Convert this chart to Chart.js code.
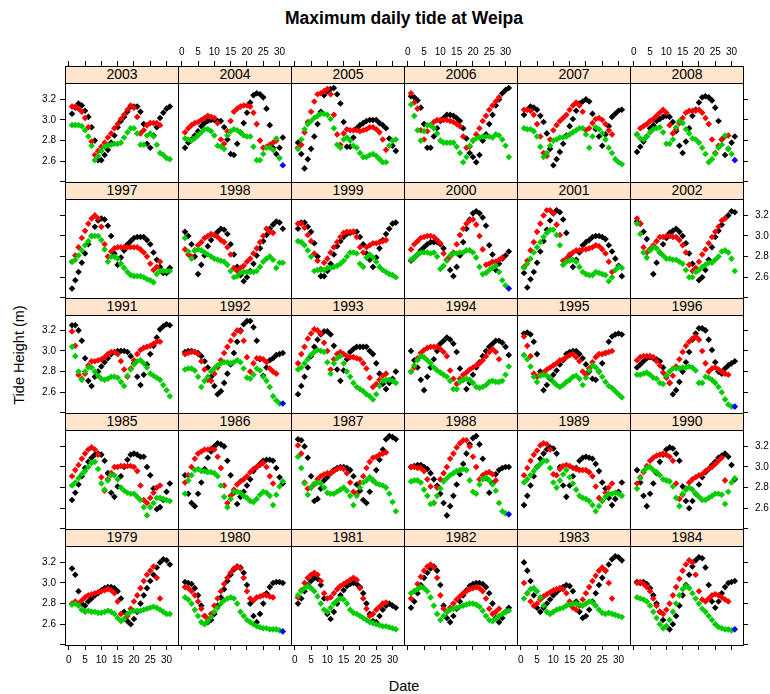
<!DOCTYPE html>
<html>
<head>
<meta charset="utf-8">
<title>Maximum daily tide at Weipa</title>
<script src="https://cdn.jsdelivr.net/npm/chart.js@4.4.1/dist/chart.umd.min.js"></script>
<style>
  body { margin: 0; background: #fff; }
  #page { position: relative; width: 770px; height: 694px; overflow: hidden;
          font-family: "Liberation Sans", Arial, Helvetica, sans-serif; color: #000; }
  #page canvas { position: absolute; }
  .lbl { position: absolute; white-space: nowrap; text-align: center; }
  #title { left: 204px; width: 400px; top: 8px; font-size: 17.5px; font-weight: bold; line-height: 20px; }
  #xlab { left: 354px; width: 100px; top: 677px; font-size: 14.5px; line-height: 18px; }
  #ylab { left: 19px; top: 355px; font-size: 14.5px; line-height: 18px;
          transform: translate(-50%, -50%) rotate(-90deg); }
  .strip { position: absolute; box-sizing: border-box; z-index: 2; background: #ffe5cc;
           border: 1px solid #000; font-size: 14px; line-height: 15px; text-align: center; }
</style>
</head>
<body>
<div id="page">
  <div class="lbl" id="title">Maximum daily tide at Weipa</div>
  <div class="lbl" id="ylab">Tide Height (m)</div>
  <div class="lbl" id="xlab">Date</div>
</div>
<script>
// daily maxima (m), one value per day from day 1; black / red / green groups
const black1979 = [3.14,3.08,2.92,2.80,2.78,2.82,2.85,2.88,2.90,2.93,2.95,2.96,2.96,2.95,2.92,2.85,2.72,2.63,2.60,2.65,2.72,2.80,2.88,2.95,3.02,3.08,3.15,3.20,3.23,3.22,3.18];
const red1979   = [2.80,2.82,2.80,2.83,2.86,2.88,2.89,2.90,2.91,2.92,2.93,2.94,2.93,2.90,2.82,2.70,2.65,2.68,2.75,2.82,2.88,2.95,3.02,3.08,3.12,3.16,3.05,2.85];
const green1979 = [2.79,2.80,2.78,2.74,2.72,2.73,2.72,2.72,2.71,2.71,2.72,2.73,2.72,2.70,2.66,2.63,2.65,2.70,2.72,2.73,2.73,2.73,2.74,2.75,2.76,2.77,2.76,2.74,2.72,2.70,2.70];
const black1980 = [3.01,3.00,2.99,2.95,2.88,2.78,2.68,2.62,2.64,2.70,2.78,2.86,2.94,3.02,3.08,3.13,3.16,3.15,3.10,2.98,2.80,2.68,2.62,2.70,2.80,2.90,2.96,3.00,3.01,3.01,3.00];
const red1980   = [2.96,2.95,2.92,2.88,2.82,2.75,2.68,2.65,2.70,2.78,2.85,2.92,2.99,3.05,3.10,3.14,3.16,3.14,3.05,2.92,2.85,2.83,2.86,2.87,2.88,2.88,2.87,2.86];
const green1980 = [2.86,2.84,2.80,2.74,2.68,2.62,2.60,2.63,2.67,2.72,2.76,2.80,2.83,2.85,2.86,2.85,2.80,2.72,2.68,2.64,2.62,2.60,2.58,2.57,2.56,2.56,2.55,2.55,2.55,2.54];
const black1981 = [2.80,2.85,2.92,2.98,3.02,3.05,3.04,2.98,2.85,2.70,2.65,2.72,2.80,2.88,2.93,2.97,2.99,3.00,2.99,2.96,2.90,2.80,2.70,2.63,2.62,2.68,2.74,2.78,2.80,2.78,2.76];
const red1981   = [2.86,2.93,3.00,3.05,3.08,3.10,3.08,3.02,2.90,2.85,2.86,2.90,2.94,2.97,2.99,3.01,3.03,3.05,3.03,2.95,2.85,2.75,2.68,2.70,2.74,2.77,2.80,2.81];
const green1981 = [2.88,2.92,2.95,2.97,2.95,2.92,2.87,2.80,2.74,2.72,2.76,2.80,2.83,2.85,2.84,2.80,2.74,2.71,2.70,2.68,2.66,2.64,2.62,2.61,2.60,2.59,2.58,2.58,2.57,2.56,2.55];
const black1982 = [2.76,2.82,2.90,2.98,3.05,3.10,3.14,3.16,3.12,2.98,2.78,2.66,2.62,2.68,2.75,2.82,2.88,2.93,2.97,2.99,3.00,3.00,2.99,2.96,2.90,2.80,2.66,2.62,2.66,2.72,2.76];
const red1982   = [2.85,2.92,2.99,3.06,3.12,3.16,3.18,3.15,3.05,2.88,2.75,2.72,2.76,2.80,2.84,2.87,2.90,2.92,2.94,2.95,2.96,2.95,2.92,2.85,2.75,2.70,2.72,2.75];
const green1982 = [2.90,2.92,2.94,2.96,2.95,2.92,2.86,2.78,2.70,2.64,2.68,2.72,2.74,2.75,2.76,2.77,2.78,2.79,2.80,2.80,2.79,2.77,2.73,2.68,2.64,2.63,2.65,2.68,2.70,2.72,2.73];
const black1983 = [3.20,3.12,3.02,2.88,2.76,2.72,2.76,2.80,2.84,2.88,2.91,2.94,2.96,2.98,2.97,2.92,2.82,2.72,2.66,2.68,2.74,2.82,2.90,2.98,3.05,3.12,3.18,3.23,3.26,3.25,3.22];
const red1983   = [3.00,2.90,2.82,2.78,2.80,2.84,2.87,2.89,2.91,2.93,2.94,2.95,2.94,2.90,2.82,2.76,2.74,2.78,2.84,2.90,2.96,3.02,3.07,3.12,3.15,3.12,3.00,2.85];
const green1983 = [2.85,2.90,2.94,2.95,2.92,2.86,2.78,2.72,2.70,2.72,2.74,2.75,2.76,2.78,2.79,2.80,2.80,2.79,2.78,2.80,2.82,2.81,2.78,2.74,2.71,2.70,2.71,2.70,2.69,2.68,2.67];
const black1984 = [3.01,3.00,3.01,2.99,2.95,2.88,2.80,2.72,2.64,2.58,2.55,2.60,2.68,2.78,2.88,2.98,3.08,3.16,3.22,3.25,3.24,3.15,2.98,2.82,2.76,2.82,2.90,2.96,3.00,3.01,3.02];
const red1984   = [3.00,3.01,2.99,2.96,2.92,2.85,2.78,2.72,2.70,2.74,2.80,2.88,2.96,3.04,3.12,3.18,3.22,3.20,3.08,2.92,2.84,2.82,2.85,2.88,2.89,2.88,2.86,2.84,2.82];
const green1984 = [2.86,2.85,2.84,2.82,2.78,2.72,2.66,2.60,2.56,2.58,2.64,2.72,2.80,2.88,2.94,2.97,2.95,2.90,2.85,2.80,2.75,2.72,2.68,2.64,2.60,2.57,2.56,2.55,2.55,2.54];
const black1985 = [2.68,2.75,2.83,2.91,2.99,3.05,3.09,3.12,3.13,3.12,3.06,2.94,2.75,2.71,2.81,2.91,3.00,3.07,3.12,3.13,3.12,3.10,3.10,3.00,2.92,2.79,2.59,2.61,2.68,2.76,2.84];
const red1985   = [2.91,2.97,3.02,3.08,3.13,3.17,3.19,3.17,3.12,2.90,2.77,2.88,2.94,3.00,3.00,3.01,3.01,3.01,3.01,3.00,2.96,2.82,2.68,2.65,2.70,2.75,2.80,2.82];
const green1985 = [2.82,2.85,2.89,2.93,2.96,3.00,3.04,3.05,2.98,2.84,2.78,2.87,2.92,2.92,2.88,2.80,2.77,2.75,2.74,2.74,2.71,2.68,2.61,2.53,2.61,2.65,2.70,2.70,2.69,2.68,2.67];
const black1986 = [2.92,2.74,2.65,2.62,2.74,2.85,2.98,3.09,3.15,3.20,3.23,3.22,3.20,3.06,2.92,2.75,2.64,2.71,2.76,2.82,2.88,2.96,3.00,3.03,3.06,3.07,3.07,3.06,2.99,2.90,2.84];
const red1986   = [2.85,2.92,3.00,3.08,3.13,3.15,3.17,3.17,3.18,3.17,3.10,2.99,2.82,2.65,2.72,2.78,2.83,2.86,2.88,2.91,2.95,2.98,3.00,3.02,3.04,3.00,2.91,2.84];
const green1986 = [2.74,2.87,2.92,2.97,2.98,2.96,2.96,2.95,2.95,2.94,2.91,2.82,2.71,2.61,2.69,2.76,2.76,2.75,2.72,2.70,2.67,2.66,2.69,2.73,2.76,2.75,2.72,2.63,2.73,2.81,2.86];
const black1987 = [3.27,3.26,3.20,3.09,2.91,2.67,2.69,2.79,2.87,2.90,2.94,2.97,2.99,3.00,3.00,2.99,2.97,2.91,2.83,2.77,2.68,2.65,2.76,2.87,2.97,3.07,3.17,3.27,3.30,3.29,3.27];
const red1987   = [3.21,3.13,2.85,2.79,2.80,2.83,2.88,2.91,2.93,2.94,2.94,2.96,2.98,2.99,2.98,2.94,2.85,2.76,2.74,2.85,2.91,2.99,3.05,3.09,3.10,3.12,3.13,3.14];
const green1987 = [3.10,2.99,2.84,2.73,2.80,2.84,2.85,2.84,2.80,2.75,2.74,2.74,2.76,2.78,2.80,2.77,2.72,2.63,2.72,2.80,2.85,2.87,2.90,2.87,2.84,2.83,2.82,2.80,2.74,2.66,2.57];
const black1988 = [3.00,3.01,3.02,3.02,3.00,2.98,2.94,2.88,2.82,2.74,2.65,2.53,2.62,2.72,2.83,2.93,3.03,3.13,3.22,3.28,3.30,3.22,3.08,2.89,2.75,2.84,2.93,2.97,2.99,3.00,3.00];
const red1988   = [3.00,3.00,2.99,2.99,2.96,2.88,2.81,2.65,2.80,2.88,2.94,3.00,3.08,3.13,3.19,3.23,3.26,3.26,3.20,3.10,3.00,2.88,2.92,2.94,2.95,2.93,2.87];
const green1988 = [2.86,2.87,2.87,2.85,2.78,2.72,2.64,2.65,2.72,2.79,2.86,2.89,2.92,2.94,2.96,2.97,2.98,2.97,2.87,2.76,2.74,2.83,2.88,2.90,2.87,2.83,2.77,2.65,2.57,2.55];
const black1989 = [2.63,2.72,2.82,2.91,3.00,3.08,3.13,3.17,3.19,3.18,3.13,3.00,2.82,2.71,2.82,2.91,2.99,3.06,3.09,3.10,3.09,3.08,3.03,2.96,2.85,2.79,2.70,2.63,2.69,2.76,2.85];
const red1989   = [2.92,2.99,3.06,3.12,3.16,3.21,3.23,3.22,3.17,2.93,2.92,2.98,3.01,3.02,3.01,2.99,2.98,2.97,2.97,2.97,2.95,2.91,2.81,2.70,2.67,2.75,2.80,2.84];
const green1989 = [2.85,2.88,2.92,2.96,3.00,3.03,3.06,3.06,2.99,2.85,2.80,2.87,2.93,2.97,2.90,2.84,2.78,2.72,2.70,2.69,2.67,2.63,2.57,2.62,2.67,2.71,2.74,2.74,2.75,2.74,2.72];
const black1990 = [2.97,2.85,2.72,2.62,2.74,2.84,2.94,3.05,3.12,3.17,3.19,3.18,3.13,3.06,2.81,2.67,2.60,2.67,2.74,2.83,2.90,2.95,2.98,3.02,3.05,3.09,3.11,3.13,3.10,3.02,2.88];
const red1990   = [2.84,2.90,2.95,3.01,3.06,3.09,3.11,3.12,3.13,3.12,3.10,3.06,2.84,2.69,2.73,2.79,2.85,2.88,2.90,2.92,2.93,2.96,2.98,3.00,3.03,3.06,3.09,2.87];
const green1990 = [2.79,2.89,2.96,2.99,3.00,2.97,2.95,2.92,2.88,2.87,2.86,2.81,2.70,2.62,2.74,2.78,2.80,2.78,2.74,2.71,2.68,2.68,2.70,2.72,2.74,2.74,2.73,2.64,2.76,2.85,2.89];
const black1991 = [3.25,3.25,3.20,3.10,2.93,2.71,2.66,2.75,2.80,2.85,2.89,2.93,2.97,2.99,3.00,3.00,3.00,2.99,2.95,2.88,2.75,2.67,2.77,2.87,2.97,3.05,3.13,3.21,3.24,3.26,3.25];
const red1991   = [3.19,3.05,2.77,2.73,2.78,2.86,2.90,2.90,2.91,2.92,2.94,2.97,2.99,2.99,2.97,2.90,2.82,2.75,2.83,2.91,2.97,3.01,3.03,3.04,3.05,3.07,3.09,3.09];
const green1991 = [3.04,2.95,2.80,2.72,2.80,2.84,2.84,2.80,2.76,2.73,2.72,2.73,2.75,2.75,2.74,2.70,2.66,2.76,2.82,2.87,2.90,2.91,2.88,2.84,2.78,2.76,2.74,2.72,2.67,2.62,2.56];
const black1992 = [2.99,3.00,3.00,2.99,2.98,2.95,2.90,2.84,2.75,2.66,2.58,2.61,2.69,2.78,2.87,2.98,3.09,3.20,3.26,3.29,3.29,3.23,3.10,2.92,2.76,2.84,2.91,2.93,2.96,2.97,2.98];
const red1992   = [2.97,2.98,2.99,2.99,2.97,2.90,2.82,2.72,2.71,2.78,2.84,2.91,2.98,3.04,3.10,3.16,3.20,3.19,3.10,2.94,2.80,2.88,2.93,2.93,2.92,2.89,2.83,2.80,2.78];
const green1992 = [2.82,2.83,2.83,2.81,2.75,2.65,2.71,2.75,2.80,2.83,2.86,2.88,2.89,2.89,2.88,2.89,2.91,2.89,2.83,2.74,2.73,2.77,2.83,2.81,2.75,2.71,2.65,2.56,2.52,2.49];
const black1993 = [2.58,2.66,2.75,2.84,2.95,3.04,3.11,3.16,3.19,3.19,3.16,3.05,2.82,2.71,2.81,2.92,2.99,3.02,3.04,3.04,3.04,3.04,3.00,2.97,2.88,2.78,2.68,2.63,2.69,2.73,2.80];
const red1993   = [2.88,2.97,3.04,3.12,3.17,3.21,3.20,3.17,3.08,3.00,2.82,2.92,2.97,2.99,2.97,2.95,2.94,2.94,2.93,2.92,2.88,2.83,2.74,2.65,2.68,2.72,2.76,2.78];
const green1993 = [2.82,2.84,2.88,2.92,2.96,2.99,3.01,3.00,2.99,2.89,2.78,2.88,2.93,2.95,2.88,2.80,2.75,2.69,2.65,2.63,2.61,2.58,2.56,2.53,2.58,2.66,2.71,2.72,2.72,2.71,2.69];
const black1994 = [3.00,2.91,2.84,2.72,2.62,2.75,2.84,2.92,3.00,3.07,3.10,3.13,3.11,3.07,2.99,2.83,2.72,2.63,2.69,2.77,2.84,2.89,2.95,3.00,3.04,3.07,3.10,3.10,3.08,3.04,2.96];
const red1994   = [2.80,2.84,2.93,2.98,3.01,3.03,3.04,3.04,3.04,3.02,2.99,2.95,2.81,2.73,2.68,2.73,2.77,2.79,2.82,2.84,2.86,2.88,2.91,2.95,2.99,3.02,2.99,2.92];
const green1994 = [2.80,2.86,2.91,2.95,2.94,2.91,2.88,2.84,2.81,2.79,2.77,2.75,2.71,2.63,2.63,2.70,2.72,2.73,2.72,2.69,2.65,2.64,2.65,2.67,2.70,2.71,2.70,2.70,2.71,2.77,2.85];
const black1995 = [3.17,3.18,3.16,3.09,2.97,2.80,2.62,2.67,2.73,2.77,2.81,2.87,2.91,2.97,2.99,3.00,3.00,2.97,2.93,2.87,2.80,2.73,2.72,2.80,2.88,2.98,3.09,3.14,3.16,3.17,3.16];
const red1995   = [3.14,3.05,2.95,2.78,2.75,2.77,2.79,2.82,2.84,2.86,2.88,2.91,2.92,2.94,2.96,2.97,2.94,2.90,2.80,2.77,2.83,2.89,2.94,2.97,2.97,2.98,2.99,3.00];
const green1995 = [2.96,2.92,2.85,2.75,2.70,2.76,2.77,2.76,2.74,2.70,2.67,2.65,2.67,2.70,2.72,2.75,2.76,2.73,2.67,2.74,2.81,2.86,2.84,2.80,2.75,2.70,2.66,2.64,2.61,2.58,2.55];
const black1996 = [2.84,2.87,2.90,2.93,2.94,2.93,2.92,2.90,2.84,2.76,2.69,2.58,2.62,2.70,2.80,2.89,2.99,3.11,3.17,3.22,3.22,3.20,3.11,3.01,2.89,2.80,2.78,2.83,2.86,2.88,2.90];
const red1996   = [2.91,2.94,2.95,2.95,2.95,2.94,2.90,2.86,2.79,2.74,2.69,2.76,2.85,2.92,2.99,3.05,3.09,3.12,3.14,3.11,3.00,2.88,2.80,2.83,2.84,2.82,2.80,2.78,2.77];
const green1996 = [2.77,2.77,2.78,2.79,2.77,2.74,2.73,2.69,2.68,2.76,2.80,2.83,2.83,2.83,2.84,2.84,2.85,2.84,2.81,2.69,2.69,2.75,2.74,2.72,2.69,2.65,2.60,2.53,2.48,2.46];
const black1997 = [2.49,2.57,2.65,2.74,2.83,2.92,3.00,3.09,3.15,3.17,3.16,3.10,3.00,2.83,2.72,2.79,2.86,2.92,2.95,2.98,2.99,2.99,2.99,2.96,2.92,2.84,2.77,2.70,2.64,2.64,2.69];
const red1997   = [2.75,2.81,2.89,2.98,3.05,3.12,3.17,3.20,3.17,3.09,2.92,2.80,2.85,2.88,2.89,2.89,2.89,2.89,2.89,2.89,2.89,2.87,2.84,2.80,2.73,2.67,2.70,2.75];
const green1997 = [2.75,2.77,2.81,2.86,2.91,2.95,3.00,3.00,3.00,2.96,2.87,2.75,2.80,2.80,2.78,2.73,2.69,2.65,2.62,2.61,2.61,2.61,2.60,2.58,2.57,2.55,2.63,2.66,2.66,2.66,2.66];
const black1998 = [3.04,3.00,2.92,2.80,2.63,2.72,2.81,2.90,2.96,3.01,3.04,3.07,3.06,3.02,2.92,2.82,2.70,2.62,2.56,2.60,2.66,2.73,2.81,2.88,2.95,3.01,3.07,3.11,3.14,3.13,3.07];
const red1998   = [2.87,2.82,2.80,2.86,2.91,2.94,2.98,3.00,3.02,3.01,2.99,2.96,2.94,2.89,2.82,2.69,2.66,2.69,2.71,2.75,2.78,2.83,2.88,2.94,3.00,3.07,3.04,3.03];
const green1998 = [2.98,2.85,2.78,2.86,2.87,2.86,2.84,2.82,2.80,2.78,2.77,2.76,2.75,2.72,2.66,2.60,2.61,2.64,2.65,2.65,2.65,2.65,2.66,2.70,2.75,2.78,2.80,2.77,2.69,2.74,2.74];
const black1999 = [3.07,3.13,3.13,3.09,3.04,2.93,2.80,2.61,2.61,2.66,2.73,2.82,2.90,2.95,2.99,3.02,3.03,3.04,3.04,2.99,2.92,2.83,2.77,2.70,2.79,2.88,2.96,3.02,3.07,3.12,3.13];
const red1999   = [3.12,3.12,3.08,3.01,2.95,2.83,2.76,2.68,2.74,2.78,2.84,2.89,2.94,2.99,3.03,3.04,3.04,3.04,2.99,2.89,2.84,2.89,2.91,2.93,2.93,2.94,2.95,2.96];
const green1999 = [2.95,2.94,2.91,2.86,2.80,2.66,2.67,2.67,2.67,2.69,2.69,2.70,2.71,2.73,2.76,2.80,2.84,2.84,2.83,2.73,2.70,2.79,2.82,2.79,2.75,2.70,2.67,2.65,2.63,2.62,2.60];
const black2000 = [2.76,2.79,2.82,2.86,2.89,2.92,2.94,2.94,2.94,2.92,2.88,2.77,2.67,2.61,2.70,2.81,2.94,3.07,3.16,3.22,3.24,3.22,3.18,3.10,2.91,2.82,2.67,2.73,2.78,2.81,2.85];
const red2000   = [2.87,2.92,2.95,2.98,2.99,3.00,3.00,2.99,2.96,2.93,2.83,2.77,2.80,2.84,2.92,3.01,3.07,3.12,3.15,3.16,3.11,3.00,2.87,2.72,2.73,2.75,2.75,2.77,2.79];
const green2000 = [2.77,2.79,2.82,2.84,2.84,2.84,2.83,2.84,2.80,2.68,2.71,2.76,2.81,2.83,2.83,2.84,2.84,2.86,2.86,2.84,2.79,2.70,2.63,2.64,2.67,2.69,2.71,2.65,2.57,2.52];
const black2001 = [2.64,2.50,2.58,2.65,2.74,2.85,2.95,3.06,3.15,3.22,3.25,3.23,3.16,3.03,2.81,2.70,2.77,2.84,2.91,2.94,2.96,2.99,3.00,3.00,2.99,2.97,2.91,2.85,2.78,2.71,2.61];
const red2001   = [2.70,2.76,2.86,2.94,3.04,3.12,3.20,3.25,3.25,3.22,3.11,3.01,2.76,2.78,2.82,2.84,2.86,2.86,2.87,2.87,2.88,2.89,2.91,2.90,2.87,2.83,2.75,2.65];
const green2001 = [2.69,2.73,2.78,2.84,2.89,2.94,2.99,3.03,3.06,3.06,3.01,2.91,2.72,2.75,2.76,2.77,2.75,2.70,2.65,2.63,2.62,2.62,2.65,2.64,2.63,2.62,2.56,2.60,2.67,2.70,2.69];
const black2002 = [3.14,3.12,3.04,2.97,2.87,2.63,2.74,2.84,2.92,2.98,3.03,3.05,3.07,3.04,3.00,2.93,2.83,2.73,2.67,2.57,2.60,2.67,2.77,2.89,2.99,3.05,3.11,3.17,3.20,3.24,3.23];
const red2002   = [3.17,3.12,2.89,2.84,2.87,2.91,2.95,2.99,2.99,3.00,3.00,2.99,2.99,2.96,2.91,2.84,2.72,2.66,2.69,2.75,2.82,2.87,2.93,2.99,3.04,3.09,3.15,3.17];
const green2002 = [3.12,3.02,2.84,2.79,2.86,2.89,2.88,2.84,2.81,2.78,2.78,2.77,2.77,2.75,2.73,2.67,2.60,2.60,2.65,2.67,2.70,2.72,2.74,2.74,2.77,2.80,2.85,2.86,2.84,2.78,2.66];
const black2003 = [3.06,3.12,3.16,3.14,3.09,3.03,2.93,2.80,2.61,2.61,2.66,2.71,2.78,2.85,2.93,2.99,3.03,3.08,3.13,3.13,3.13,3.08,2.96,2.77,2.73,2.85,2.93,3.02,3.07,3.11,3.13];
const red2003   = [3.13,3.13,3.11,3.08,3.02,2.93,2.79,2.66,2.70,2.74,2.78,2.83,2.87,2.92,2.96,3.01,3.05,3.10,3.14,3.12,3.03,2.87,2.90,2.95,2.97,2.97,2.97,2.95];
const green2003 = [2.95,2.95,2.95,2.94,2.90,2.84,2.75,2.61,2.65,2.70,2.74,2.75,2.76,2.77,2.77,2.78,2.83,2.88,2.92,2.92,2.87,2.76,2.76,2.85,2.87,2.84,2.76,2.68,2.66,2.63,2.62];
const black2004 = [2.73,2.78,2.81,2.85,2.89,2.94,2.97,2.99,3.00,3.00,2.99,2.99,2.93,2.81,2.67,2.66,2.77,2.88,2.97,3.07,3.17,3.24,3.26,3.25,3.22,3.11,2.95,2.73,2.67,2.73,2.83];
const red2004   = [2.88,2.92,2.95,2.97,2.98,3.00,3.02,3.04,3.03,3.02,2.97,2.81,2.77,2.89,2.99,3.08,3.11,3.13,3.14,3.14,3.13,3.07,2.96,2.80,2.73,2.74,2.76,2.78,2.80];
const green2004 = [2.82,2.81,2.80,2.82,2.85,2.88,2.91,2.91,2.89,2.85,2.75,2.74,2.72,2.85,2.89,2.91,2.90,2.88,2.85,2.84,2.84,2.74,2.61,2.61,2.67,2.73,2.73,2.71,2.82,2.63];
const black2005 = [2.78,2.67,2.53,2.62,2.72,2.84,2.96,3.08,3.24,3.28,3.30,3.31,3.25,3.16,2.98,2.74,2.74,2.83,2.92,2.95,2.97,2.99,3.00,3.00,3.00,2.97,2.95,2.92,2.82,2.75,2.70];
const red2005   = [2.73,2.76,2.88,2.98,3.08,3.18,3.25,3.26,3.28,3.30,3.25,3.05,2.86,2.76,2.87,2.91,2.90,2.90,2.90,2.89,2.90,2.91,2.93,2.93,2.91,2.88,2.81,2.71];
const green2005 = [2.72,2.81,2.91,2.96,2.99,3.02,3.04,3.06,3.06,3.05,3.01,2.92,2.76,2.73,2.81,2.83,2.80,2.75,2.73,2.68,2.64,2.64,2.66,2.67,2.65,2.62,2.59,2.59,2.75,2.80,2.81];
const black2006 = [3.23,3.22,3.19,3.12,2.96,2.73,2.73,2.84,2.92,2.99,3.02,3.05,3.05,3.04,3.02,2.99,2.92,2.82,2.68,2.64,2.59,2.66,2.80,2.86,2.96,3.05,3.14,3.20,3.26,3.29,3.31];
const red2006   = [3.26,3.17,3.11,2.90,2.81,2.89,2.95,2.98,3.00,3.00,3.00,3.00,2.99,2.98,2.96,2.94,2.84,2.73,2.74,2.80,2.86,2.92,2.99,3.04,3.10,3.14,3.18,3.22];
const green2006 = [3.15,3.04,2.90,2.80,2.89,2.95,2.95,2.92,2.87,2.80,2.78,2.78,2.78,2.78,2.74,2.68,2.59,2.64,2.75,2.80,2.82,2.83,2.84,2.84,2.84,2.83,2.86,2.85,2.81,2.75,2.64];
const black2007 = [3.05,3.10,3.13,3.12,3.10,3.04,2.98,2.87,2.72,2.56,2.62,2.69,2.77,2.85,2.94,3.01,3.09,3.16,3.18,3.20,3.18,3.06,2.91,2.84,2.75,2.86,2.94,3.03,3.06,3.09,3.10];
const red2007   = [3.10,3.10,3.09,3.05,2.96,2.84,2.68,2.65,2.81,2.90,2.95,2.99,3.02,3.05,3.10,3.14,3.17,3.14,3.08,2.90,2.92,2.97,3.01,3.02,3.00,2.96,2.90,2.86];
const green2007 = [2.92,2.91,2.91,2.89,2.84,2.74,2.64,2.68,2.75,2.80,2.81,2.83,2.83,2.84,2.86,2.88,2.90,2.92,2.92,2.86,2.73,2.84,2.93,2.91,2.87,2.81,2.73,2.68,2.62,2.59,2.57];
const black2008 = [2.69,2.74,2.79,2.84,2.92,2.95,2.99,3.01,3.03,3.04,3.03,2.98,2.89,2.75,2.68,2.79,2.92,3.04,3.10,3.17,3.22,3.23,3.22,3.19,3.12,2.99,2.81,2.66,2.72,2.78,2.84];
const red2008   = [2.86,2.92,2.94,2.96,2.99,3.01,3.04,3.07,3.10,3.07,2.95,2.87,2.91,2.97,3.02,3.07,3.09,3.09,3.09,3.10,3.07,3.02,2.96,2.81,2.68,2.75,2.81,2.84,2.85];
const green2008 = [2.86,2.82,2.81,2.84,2.88,2.91,2.92,2.93,2.88,2.77,2.77,2.81,2.93,2.99,2.97,2.91,2.87,2.82,2.81,2.78,2.73,2.67,2.59,2.62,2.67,2.73,2.76,2.85,2.72,2.67];

// the single blue point on day 31
const blueYears  = [1980, 1984, 1988, 1992, 1996, 2000, 2004, 2008];
const blueValues = [2.53, 2.55, 2.54, 2.49, 2.46, 2.49, 2.56, 2.61];

const dayTicks = [0, 5, 10, 15, 20, 25, 30];
const heightTicks = [2.4, 2.6, 2.8, 3.0, 3.2];

const groups = {
  1979: [black1979, red1979, green1979], 1980: [black1980, red1980, green1980],
  1981: [black1981, red1981, green1981], 1982: [black1982, red1982, green1982],
  1983: [black1983, red1983, green1983], 1984: [black1984, red1984, green1984],
  1985: [black1985, red1985, green1985], 1986: [black1986, red1986, green1986],
  1987: [black1987, red1987, green1987], 1988: [black1988, red1988, green1988],
  1989: [black1989, red1989, green1989], 1990: [black1990, red1990, green1990],
  1991: [black1991, red1991, green1991], 1992: [black1992, red1992, green1992],
  1993: [black1993, red1993, green1993], 1994: [black1994, red1994, green1994],
  1995: [black1995, red1995, green1995], 1996: [black1996, red1996, green1996],
  1997: [black1997, red1997, green1997], 1998: [black1998, red1998, green1998],
  1999: [black1999, red1999, green1999], 2000: [black2000, red2000, green2000],
  2001: [black2001, red2001, green2001], 2002: [black2002, red2002, green2002],
  2003: [black2003, red2003, green2003], 2004: [black2004, red2004, green2004],
  2005: [black2005, red2005, green2005], 2006: [black2006, red2006, green2006],
  2007: [black2007, red2007, green2007], 2008: [black2008, red2008, green2008]
};

// panel grid (page pixels): 6 columns x 5 rows, strip on top of each panel
const colX = [65, 178, 291, 404, 517, 630, 743];
const rowY = [66, 182, 298, 413, 529, 645];
const STRIP = 17;
const M = 40;                 // room around each plot for ticks and labels
const DAY_PX = 3.26, X_MIN = -1.15;
const M_PX = 0.2 / 20.6, Y_MIN = 2.398;
const FONT = '"Liberation Sans", Arial, Helvetica, sans-serif';

Chart.defaults.font.family = FONT;
Chart.defaults.color = '#000';

const page = document.getElementById('page');

const frame = {
  id: 'frame',
  afterDraw(chart) {
    const { ctx, chartArea: a } = chart;
    ctx.save();
    ctx.strokeStyle = '#000';
    ctx.lineWidth = 1;
    ctx.strokeRect(a.left + 0.5, a.top + 0.5, a.right - a.left, a.bottom - a.top);
    ctx.restore();
  }
};

function toPoints(vals) {
  return vals.map((v, i) => ({ x: i + 1, y: v })).filter(p => p.y != null);
}

function scale(pos, min, max, values, showTicks, showLabels, fmt, pad) {
  return {
    type: 'linear', position: pos, min: min, max: max,
    border: { display: false },
    grid: { display: showTicks, drawOnChartArea: false, drawTicks: true,
            tickLength: 5, color: '#000', lineWidth: 1 },
    ticks: { display: showLabels, autoSkip: false, maxRotation: 0, minRotation: 0,
             padding: pad, font: { size: 10 }, color: '#000', callback: fmt },
    afterBuildTicks: s => { s.ticks = values.map(v => ({ value: v })); },
    afterFit: s => { if (s.isHorizontal()) s.height = M; else s.width = M; }
  };
}

const dayFmt = v => String(v);
const hFmt = v => (v < 2.5 ? '' : v.toFixed(1));

for (let r = 0; r < 5; r++) {
  for (let c = 0; c < 6; c++) {
    const year = 1979 + (4 - r) * 6 + c;
    const w = colX[c + 1] - colX[c];
    const h = rowY[r + 1] - rowY[r];

    const cv = document.createElement('canvas');
    cv.width = w + 2 * M;
    cv.height = h + 2 * M;
    cv.style.left = (colX[c] - M) + 'px';
    cv.style.top = (rowY[r] - M) + 'px';
    page.appendChild(cv);

    const strip = document.createElement('div');
    strip.className = 'strip';
    strip.style.left = colX[c] + 'px';
    strip.style.top = rowY[r] + 'px';
    strip.style.width = (w + 1) + 'px';
    strip.style.height = (STRIP + 1) + 'px';
    strip.textContent = year;
    page.appendChild(strip);

    const xMax = X_MIN + w / DAY_PX;
    const yMax = Y_MIN + h * M_PX;
    const [blk, red, grn] = groups[year];
    const bi = blueYears.indexOf(year);

    const datasets = [
      { data: toPoints(blk), backgroundColor: '#000000', order: 3 },
      { data: toPoints(red), backgroundColor: '#ff0000', order: 2 },
      { data: toPoints(grn), backgroundColor: '#00cd00', order: 1 },
      { data: bi >= 0 ? [{ x: 31, y: blueValues[bi] }] : [], backgroundColor: '#0000ff', order: 0 }
    ];
    datasets.forEach(d => {
      d.pointStyle = 'rectRot';
      d.pointRadius = 3.3;
      d.borderWidth = 0;
      d.showLine = false;
    });

    new Chart(cv, {
      type: 'scatter',
      data: { datasets },
      options: {
        responsive: false,
        animation: false,
        events: [],
        layout: { padding: 0 },
        plugins: { legend: { display: false }, tooltip: { enabled: false } },
        scales: {
          x:  scale('bottom', X_MIN, xMax, dayTicks, r === 4, r === 4 && c % 2 === 0, dayFmt, 4),
          x2: scale('top',    X_MIN, xMax, dayTicks, r === 0, r === 0 && c % 2 === 1, dayFmt, 3),
          y:  scale('left',   Y_MIN, yMax, heightTicks, c === 0, c === 0 && r % 2 === 0, hFmt, 4),
          y2: scale('right',  Y_MIN, yMax, heightTicks, c === 5, c === 5 && r % 2 === 1, hFmt, 7)
        }
      },
      plugins: [frame]
    });
  }
}
</script>
</body>
</html>
